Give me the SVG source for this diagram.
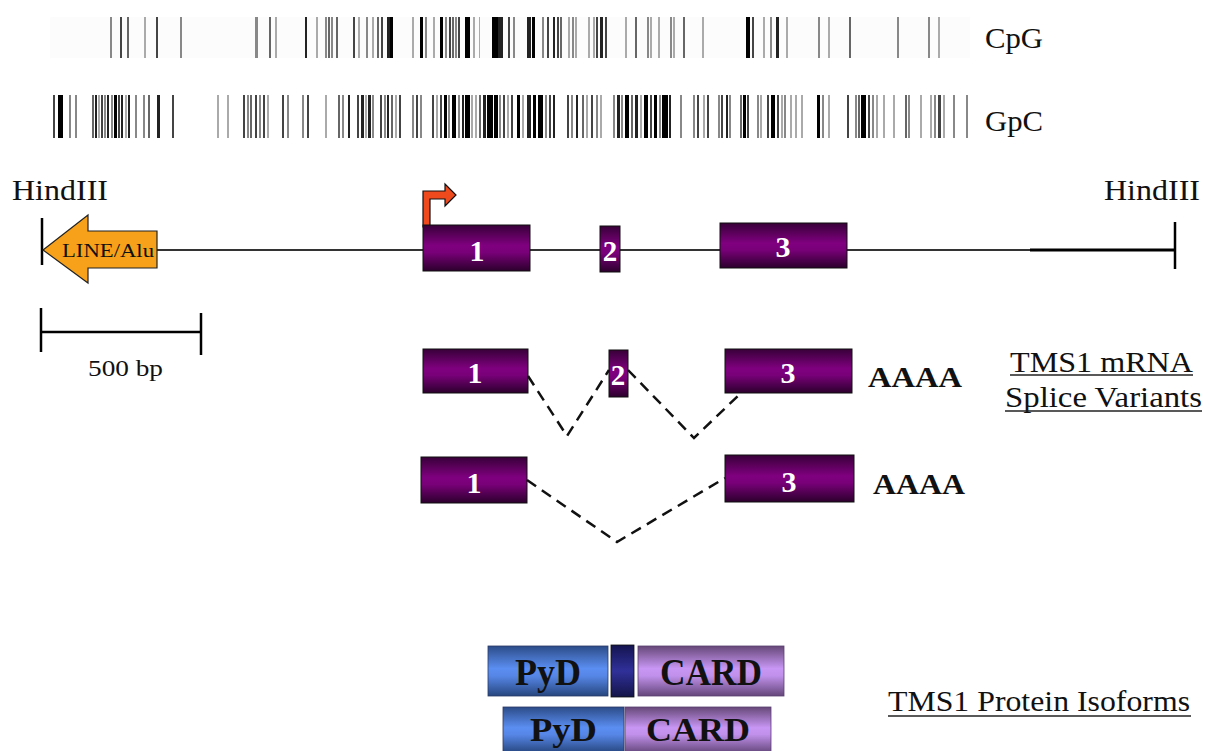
<svg xmlns="http://www.w3.org/2000/svg" width="1205" height="751" viewBox="0 0 1205 751">
<defs>
<linearGradient id="ex" x1="0" y1="0" x2="0" y2="1">
<stop offset="0" stop-color="#380038"/>
<stop offset="0.45" stop-color="#800080"/>
<stop offset="0.6" stop-color="#780078"/>
<stop offset="1" stop-color="#2c002c"/>
</linearGradient>
<linearGradient id="pyd" x1="0" y1="0" x2="0" y2="1">
<stop offset="0" stop-color="#2c4c88"/>
<stop offset="0.45" stop-color="#5b8ef2"/>
<stop offset="0.6" stop-color="#5686e6"/>
<stop offset="1" stop-color="#26467e"/>
</linearGradient>
<linearGradient id="card" x1="0" y1="0" x2="0" y2="1">
<stop offset="0" stop-color="#664878"/>
<stop offset="0.45" stop-color="#c896f4"/>
<stop offset="0.6" stop-color="#c090ea"/>
<stop offset="1" stop-color="#64467a"/>
</linearGradient>
<linearGradient id="lnk" x1="0" y1="0" x2="0" y2="1">
<stop offset="0" stop-color="#141450"/>
<stop offset="0.5" stop-color="#30309a"/>
<stop offset="1" stop-color="#141448"/>
</linearGradient>
<style>
.t{font-family:"Liberation Serif","Times New Roman",serif;fill:#111}
.b{font-weight:bold}
.w{fill:#fff;font-weight:bold;font-family:"Liberation Serif","Times New Roman",serif;text-anchor:middle}
.exon{fill:url(#ex);stroke:#111;stroke-width:1}
.k0{fill:#000}.k1{fill:#222}.k2{fill:#444}.k3{fill:#666}.k4{fill:#888}.k5{fill:#aaa}
.dash{fill:none;stroke:#111;stroke-width:2.5;stroke-dasharray:11 7}
.ul{stroke:#222;stroke-width:1.5}
</style>
</defs>
<rect width="1205" height="751" fill="#fff"/>

<g id="cpg-track">
<rect x="50" y="17" width="920" height="41" fill="#fcfcfc"/>
<g transform="translate(0,17)">
<rect class="k4" x="110" width="2" height="41"/><rect class="k2" x="120" width="2" height="41"/><rect class="k3" x="127" width="2" height="41"/><rect class="k5" x="144" width="2" height="41"/><rect class="k2" x="156" width="2" height="41"/><rect class="k4" x="180" width="2" height="41"/>
<rect class="k4" x="255" width="3" height="41"/><rect class="k3" x="269" width="2" height="41"/><rect class="k5" x="275" width="2" height="41"/>
<rect class="k1" x="305" width="2" height="41"/><rect class="k5" x="316" width="2" height="41"/><rect class="k4" x="325" width="2" height="41"/><rect class="k3" x="328" width="2" height="41"/><rect class="k4" x="331" width="2" height="41"/><rect class="k3" x="336" width="2" height="41"/>
<rect class="k2" x="353" width="2" height="41"/><rect class="k5" x="358" width="2" height="41"/><rect class="k4" x="366" width="2" height="41"/><rect class="k5" x="372" width="2" height="41"/><rect class="k3" x="377" width="2" height="41"/><rect class="k2" x="381" width="2" height="41"/><rect class="k1" x="387" width="3" height="41"/><rect class="k0" x="390" width="3" height="41"/>
<rect class="k5" x="412" width="2" height="41"/><rect class="k0" x="420" width="3" height="41"/><rect class="k4" x="425" width="2" height="41"/><rect class="k5" x="433" width="2" height="41"/><rect class="k0" x="440" width="3" height="41"/><rect class="k4" x="445" width="2" height="41"/><rect class="k2" x="449" width="2" height="41"/><rect class="k3" x="452" width="2" height="41"/><rect class="k4" x="455" width="2" height="41"/><rect class="k2" x="458" width="2" height="41"/><rect class="k0" x="465" width="5" height="41"/><rect class="k5" x="473" width="2" height="41"/><rect class="k5" x="479" width="1" height="41"/>
<rect class="k0" x="492" width="6" height="41"/><rect class="k1" x="498" width="5" height="41"/><rect class="k2" x="508" width="2" height="41"/><rect class="k4" x="513" width="2" height="41"/>
<rect class="k1" x="527" width="4" height="41"/><rect class="k0" x="532" width="3" height="41"/><rect class="k4" x="542" width="2" height="41"/><rect class="k2" x="547" width="2" height="41"/><rect class="k1" x="553" width="2" height="41"/><rect class="k2" x="557" width="2" height="41"/><rect class="k3" x="560" width="2" height="41"/><rect class="k5" x="568" width="2" height="41"/><rect class="k4" x="572" width="2" height="41"/><rect class="k5" x="575" width="2" height="41"/><rect class="k5" x="588" width="2" height="41"/><rect class="k5" x="593" width="2" height="41"/><rect class="k2" x="596" width="2" height="41"/><rect class="k1" x="600" width="3" height="41"/><rect class="k2" x="605" width="2" height="41"/>
<rect class="k5" x="625" width="2" height="41"/><rect class="k3" x="635" width="2" height="41"/><rect class="k4" x="647" width="2" height="41"/><rect class="k5" x="650" width="2" height="41"/><rect class="k5" x="658" width="2" height="41"/><rect class="k4" x="670" width="2" height="41"/><rect class="k5" x="673" width="2" height="41"/><rect class="k3" x="683" width="2" height="41"/><rect class="k5" x="702" width="2" height="41"/>
<rect class="k0" x="746" width="4" height="41"/><rect class="k2" x="752" width="2" height="41"/><rect class="k5" x="763" width="2" height="41"/><rect class="k4" x="770" width="2" height="41"/><rect class="k1" x="776" width="3" height="41"/><rect class="k5" x="786" width="2" height="41"/>
<rect class="k4" x="818" width="2" height="41"/><rect class="k5" x="828" width="2" height="41"/><rect class="k3" x="849" width="2" height="41"/>
<rect class="k4" x="897" width="2" height="41"/><rect class="k4" x="928" width="2" height="41"/><rect class="k5" x="938" width="2" height="41"/>
</g>
<text class="t" x="985" y="48" font-size="29" textLength="58" lengthAdjust="spacingAndGlyphs">CpG</text>
</g>

<g id="gpc-track">
<g transform="translate(0,95)">
<rect class="k2" x="53" width="2" height="43"/><rect class="k0" x="58" width="5" height="43"/><rect class="k4" x="69" width="2" height="43"/><rect class="k4" x="75" width="2" height="43"/>
<rect class="k3" x="92" width="2" height="43"/><rect class="k1" x="95" width="2" height="43"/><rect class="k5" x="98" width="2" height="43"/><rect class="k2" x="101" width="2" height="43"/><rect class="k4" x="104" width="2" height="43"/><rect class="k1" x="107" width="2" height="43"/><rect class="k4" x="111" width="2" height="43"/><rect class="k0" x="114" width="3" height="43"/><rect class="k2" x="118" width="2" height="43"/><rect class="k1" x="121" width="2" height="43"/><rect class="k5" x="125" width="2" height="43"/><rect class="k1" x="128" width="2" height="43"/>
<rect class="k4" x="135" width="2" height="43"/><rect class="k4" x="143" width="2" height="43"/><rect class="k3" x="148" width="2" height="43"/><rect class="k1" x="157" width="3" height="43"/><rect class="k2" x="172" width="2" height="43"/>
<rect class="k5" x="217" width="2" height="43"/><rect class="k5" x="227" width="2" height="43"/><rect class="k2" x="243" width="2" height="43"/><rect class="k4" x="247" width="2" height="43"/><rect class="k3" x="250" width="2" height="43"/><rect class="k2" x="255" width="2" height="43"/><rect class="k4" x="259" width="2" height="43"/><rect class="k2" x="263" width="2" height="43"/><rect class="k5" x="267" width="2" height="43"/>
<rect class="k2" x="282" width="2" height="43"/><rect class="k4" x="287" width="2" height="43"/><rect class="k4" x="302" width="2" height="43"/><rect class="k2" x="307" width="2" height="43"/><rect class="k5" x="325" width="2" height="43"/><rect class="k3" x="338" width="2" height="43"/><rect class="k4" x="342" width="2" height="43"/><rect class="k1" x="348" width="2" height="43"/>
<rect class="k2" x="357" width="2" height="43"/><rect class="k1" x="361" width="3" height="43"/><rect class="k5" x="365" width="2" height="43"/><rect class="k1" x="368" width="3" height="43"/><rect class="k4" x="372" width="2" height="43"/><rect class="k2" x="380" width="2" height="43"/><rect class="k4" x="384" width="2" height="43"/><rect class="k1" x="387" width="2" height="43"/><rect class="k3" x="391" width="2" height="43"/><rect class="k5" x="395" width="2" height="43"/><rect class="k2" x="399" width="2" height="43"/>
<rect class="k4" x="412" width="2" height="43"/><rect class="k2" x="416" width="2" height="43"/><rect class="k4" x="420" width="2" height="43"/>
<rect class="k2" x="432" width="2" height="43"/><rect class="k5" x="436" width="2" height="43"/><rect class="k2" x="440" width="2" height="43"/><rect class="k0" x="444" width="3" height="43"/><rect class="k4" x="448" width="2" height="43"/><rect class="k0" x="452" width="4" height="43"/><rect class="k4" x="458" width="2" height="43"/><rect class="k1" x="462" width="2" height="43"/><rect class="k0" x="465" width="5" height="43"/><rect class="k5" x="471" width="2" height="43"/><rect class="k5" x="475" width="2" height="43"/><rect class="k3" x="479" width="2" height="43"/><rect class="k1" x="483" width="3" height="43"/><rect class="k0" x="487" width="6" height="43"/><rect class="k0" x="494" width="4" height="43"/><rect class="k4" x="499" width="2" height="43"/><rect class="k2" x="503" width="2" height="43"/><rect class="k5" x="507" width="2" height="43"/><rect class="k2" x="511" width="2" height="43"/>
<rect class="k0" x="517" width="3" height="43"/><rect class="k5" x="522" width="2" height="43"/><rect class="k1" x="527" width="4" height="43"/><rect class="k0" x="533" width="3" height="43"/><rect class="k0" x="538" width="5" height="43"/><rect class="k4" x="545" width="2" height="43"/><rect class="k2" x="549" width="2" height="43"/><rect class="k1" x="553" width="2" height="43"/>
<rect class="k2" x="567" width="2" height="43"/><rect class="k4" x="571" width="2" height="43"/><rect class="k1" x="576" width="2" height="43"/><rect class="k3" x="582" width="2" height="43"/><rect class="k5" x="586" width="2" height="43"/><rect class="k2" x="591" width="2" height="43"/><rect class="k4" x="596" width="2" height="43"/><rect class="k5" x="600" width="2" height="43"/>
<rect class="k4" x="613" width="2" height="43"/><rect class="k1" x="617" width="3" height="43"/><rect class="k4" x="621" width="2" height="43"/><rect class="k0" x="625" width="4" height="43"/><rect class="k3" x="631" width="2" height="43"/><rect class="k1" x="635" width="3" height="43"/><rect class="k5" x="640" width="2" height="43"/><rect class="k0" x="644" width="4" height="43"/><rect class="k2" x="650" width="2" height="43"/><rect class="k0" x="654" width="3" height="43"/><rect class="k4" x="659" width="2" height="43"/><rect class="k0" x="662" width="6" height="43"/><rect class="k1" x="669" width="2" height="43"/>
<rect class="k4" x="680" width="2" height="43"/><rect class="k4" x="693" width="2" height="43"/><rect class="k2" x="697" width="2" height="43"/><rect class="k5" x="703" width="2" height="43"/><rect class="k2" x="707" width="2" height="43"/><rect class="k4" x="718" width="2" height="43"/><rect class="k2" x="721" width="2" height="43"/><rect class="k1" x="726" width="2" height="43"/><rect class="k4" x="729" width="2" height="43"/>
<rect class="k3" x="740" width="2" height="43"/><rect class="k0" x="743" width="3" height="43"/><rect class="k2" x="747" width="2" height="43"/><rect class="k4" x="757" width="2" height="43"/><rect class="k5" x="760" width="2" height="43"/><rect class="k2" x="767" width="2" height="43"/><rect class="k0" x="771" width="4" height="43"/><rect class="k2" x="777" width="2" height="43"/><rect class="k5" x="781" width="2" height="43"/><rect class="k4" x="784" width="2" height="43"/><rect class="k5" x="790" width="2" height="43"/><rect class="k5" x="795" width="2" height="43"/><rect class="k5" x="801" width="2" height="43"/>
<rect class="k0" x="817" width="3" height="43"/><rect class="k4" x="822" width="2" height="43"/><rect class="k5" x="828" width="2" height="43"/><rect class="k2" x="847" width="2" height="43"/><rect class="k4" x="855" width="2" height="43"/><rect class="k3" x="858" width="2" height="43"/><rect class="k0" x="861" width="5" height="43"/><rect class="k2" x="868" width="2" height="43"/><rect class="k4" x="872" width="2" height="43"/><rect class="k5" x="876" width="2" height="43"/><rect class="k5" x="883" width="2" height="43"/><rect class="k5" x="893" width="2" height="43"/><rect class="k3" x="905" width="2" height="43"/><rect class="k4" x="908" width="2" height="43"/><rect class="k5" x="920" width="2" height="43"/><rect class="k5" x="930" width="2" height="43"/><rect class="k4" x="934" width="2" height="43"/><rect class="k2" x="938" width="3" height="43"/><rect class="k5" x="943" width="2" height="43"/><rect class="k4" x="953" width="2" height="43"/><rect class="k4" x="966" width="2" height="43"/>
</g>
<text class="t" x="985" y="131" font-size="29" textLength="58" lengthAdjust="spacingAndGlyphs">GpC</text>
</g>

<g id="genomic-locus">
<text class="t" x="12" y="200" font-size="29" textLength="96" lengthAdjust="spacingAndGlyphs">HindIII</text>
<text class="t" x="1104" y="200" font-size="29" textLength="96" lengthAdjust="spacingAndGlyphs">HindIII</text>
<line x1="42" y1="250" x2="1030" y2="250" stroke="#333" stroke-width="2"/>
<line x1="1030" y1="250" x2="1175" y2="250" stroke="#000" stroke-width="3"/>
<line x1="42" y1="218" x2="42" y2="265" stroke="#000" stroke-width="2.5"/>
<line x1="1175" y1="222" x2="1175" y2="269" stroke="#000" stroke-width="2.5"/>
</g>

<g id="line-alu">
<polygon points="43,250 88,215 88,231 157,231 157,268 88,268 88,283" fill="#f7a11a" stroke="#222" stroke-width="1.2"/>
<text class="t" x="62" y="257" font-size="19" textLength="92" lengthAdjust="spacingAndGlyphs">LINE/Alu</text>
</g>

<g id="promoter">
<path d="M423,227 L423,191 L445,191 L445,184 L456,195 L445,206 L445,199 L430,199 L430,227 Z" fill="#ee4a1e" stroke="#111" stroke-width="1.2"/>
</g>

<g id="g-exon1"><rect class="exon" x="423" y="225" width="107" height="46"/><text class="w" x="477" y="261" font-size="30">1</text></g>
<g id="g-exon2"><rect class="exon" x="600" y="226" width="20" height="46"/><text class="w" x="610" y="261" font-size="29">2</text></g>
<g id="g-exon3"><rect class="exon" x="720" y="223" width="127" height="45"/><text class="w" x="783" y="257" font-size="30">3</text></g>

<g id="scale-bar">
<line x1="41" y1="332" x2="201" y2="332" stroke="#000" stroke-width="2.5"/>
<line x1="41" y1="308" x2="41" y2="352" stroke="#000" stroke-width="2.5"/>
<line x1="201" y1="313" x2="201" y2="355" stroke="#000" stroke-width="2.5"/>
<text class="t" x="88" y="376" font-size="24" textLength="75" lengthAdjust="spacingAndGlyphs">500 bp</text>
</g>

<g id="variant1">
<rect class="exon" x="423" y="349" width="105" height="44"/><text class="w" x="475" y="383" font-size="30">1</text>
<rect class="exon" x="609" y="350" width="19" height="47"/><text class="w" x="618" y="385" font-size="29">2</text>
<rect class="exon" x="725" y="349" width="127" height="44"/><text class="w" x="788" y="383" font-size="30">3</text>
<text class="t b" x="868" y="387" font-size="29" textLength="94" lengthAdjust="spacingAndGlyphs">AAAA</text>
</g>

<g id="variant2">
<rect class="exon" x="421" y="457" width="106" height="46"/><text class="w" x="474" y="493" font-size="30">1</text>
<rect class="exon" x="725" y="455" width="129" height="47"/><text class="w" x="789" y="492" font-size="30">3</text>
<text class="t b" x="873" y="494" font-size="29" textLength="92" lengthAdjust="spacingAndGlyphs">AAAA</text>
</g>

<g id="connectors">
<polyline class="dash" points="528,376 567,436 609,370"/>
<polyline class="dash" points="628,370 694,438 740,394"/>
<polyline class="dash" points="527,480 617,542 725,478"/>
</g>

<g id="mrna-label">
<text class="t" x="1010" y="372" font-size="29" textLength="183" lengthAdjust="spacingAndGlyphs">TMS1 mRNA</text>
<line class="ul" x1="1010" y1="375" x2="1193" y2="375"/>
<text class="t" x="1005" y="407" font-size="29" textLength="197" lengthAdjust="spacingAndGlyphs">Splice Variants</text>
<line class="ul" x1="1005" y1="411" x2="1202" y2="411"/>
</g>

<g id="isoform1">
<rect x="488" y="646" width="120" height="50" fill="url(#pyd)" stroke="#2a3a66" stroke-width="0.8"/>
<rect x="611" y="645" width="23" height="52" fill="url(#lnk)" stroke="#111" stroke-width="0.8"/>
<rect x="638" y="646" width="146" height="50" fill="url(#card)" stroke="#5a4070" stroke-width="0.8"/>
<text class="t b" x="515" y="685" font-size="38" textLength="66" lengthAdjust="spacingAndGlyphs">PyD</text>
<text class="t b" x="660" y="685" font-size="38" textLength="102" lengthAdjust="spacingAndGlyphs">CARD</text>
</g>

<g id="isoform2">
<rect x="503" y="707" width="121" height="46" fill="url(#pyd)" stroke="#2a3a66" stroke-width="0.8"/>
<rect x="625" y="707" width="146" height="46" fill="url(#card)" stroke="#5a4070" stroke-width="0.8"/>
<text class="t b" x="530" y="741" font-size="33" textLength="67" lengthAdjust="spacingAndGlyphs">PyD</text>
<text class="t b" x="646" y="741" font-size="33" textLength="104" lengthAdjust="spacingAndGlyphs">CARD</text>
</g>

<g id="protein-label">
<text class="t" x="888" y="711" font-size="29" textLength="302" lengthAdjust="spacingAndGlyphs">TMS1 Protein Isoforms</text>
<line class="ul" x1="888" y1="716" x2="1191" y2="716"/>
</g>
</svg>
